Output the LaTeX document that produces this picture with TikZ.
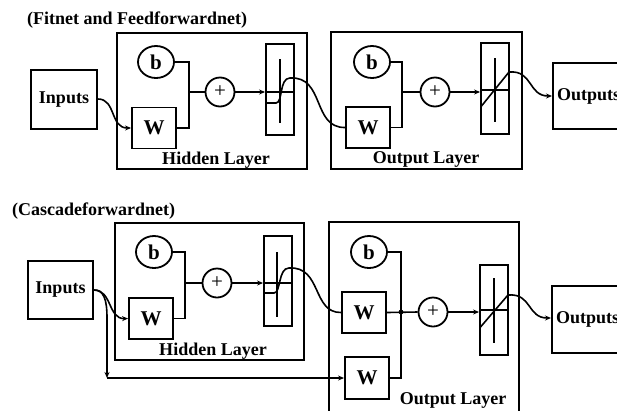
\documentclass[tikz,border=0pt]{standalone}
\usepackage{fontspec}
\setmainfont{Liberation Serif}
\usetikzlibrary{arrows.meta,shapes.geometric}
\begin{document}
\begin{tikzpicture}[x=1pt,y=-1pt,
  lbl/.style={font=\fontsize{18}{20}\selectfont\bfseries, inner sep=0pt},
  bx/.style={draw, line width=2pt, inner sep=0pt, font=\fontsize{18}{20}\selectfont\bfseries},
  wbox/.style={draw, line width=1.9pt, inner sep=0pt, minimum width=44pt, minimum height=41pt, font=\fontsize{21}{22}\selectfont\bfseries},
  bias/.style={draw, ellipse, line width=1.8pt, inner sep=0pt, minimum width=36pt, minimum height=32pt, font=\fontsize{21}{22}\selectfont\bfseries},
  sum/.style={draw, circle, line width=1.8pt, inner sep=0pt, minimum size=29pt, font=\fontsize{21}{21}\selectfont},
  tfbox/.style={draw, line width=1.9pt, inner sep=0pt, minimum width=28pt, minimum height=91pt},
  conn/.style={line width=1.6pt},
  arr/.style={line width=1.6pt, -{Stealth[length=6pt,width=5pt]}},
  inner/.style={line width=1.6pt}
]
\useasboundingbox (0,0) rectangle (617,410);
\clip (0,0) rectangle (617,410);
\fill[white] (0,0) rectangle (617,410);

% ---------------- top diagram ----------------
\node[lbl, anchor=west] (t1) at (27,20) {(Fitnet and Feedforwardnet)};
\node[bx, minimum width=190pt, minimum height=136pt] (hid1) at (212,101) {};
\node[bx, minimum width=191pt, minimum height=137pt] (out1) at (426.5,100.5) {};
\node[lbl] (hl1) at (216,160) {Hidden Layer};
\node[lbl] (ol1) at (426,159) {Output Layer};

\node[bx, minimum width=66pt, minimum height=59pt] (in1) at (64,99.5) {Inputs};
\node[bias] (b1) at (156,62) {b};
\node[wbox] (w1) at (154,128) {W};
\node[sum] (p1) at (220,92) {+};
\node[tfbox] (tf1) at (280,89.5) {};

\node[bias] (b2) at (372,62) {b};
\node[wbox] (w2) at (368,127.5) {W};
\node[sum] (p2) at (435,92) {+};
\node[tfbox] (tf2) at (495,88.5) {};
\node[bx, minimum width=80pt, minimum height=66pt, text width=72pt, align=left] (o1) at (593,96) {Outputs};

\coordinate (j1) at (189,92);
\coordinate (j2) at (402,92);

% hidden layer 1
\draw[arr] (in1.east |- 0,99) .. controls (116,99) and (110,128) .. (w1.west);
\draw[conn] (b1.east) -| (j1);
\draw[conn] (w1.east) -| (j1);
\draw[conn] (j1) -- (p1.west);
\draw[arr] (p1.east) -- (tf1.west |- p1.east);
\draw[inner] (tf1.west |- p1.east) -- (tf1.east |- p1.east);
\draw[inner] (280,59) -- (280,123);
\draw[conn] (266,103) -- (276,103) .. controls (283,103) and (279,78) .. (290,78)
   .. controls (325,76) and (312,128) .. (w2.west);

% output layer 1
\draw[conn] (b2.east) -| (j2);
\draw[conn] (w2.east) -| (j2);
\draw[conn] (j2) -- (p2.west);
\draw[arr] (p2.east) -- (tf2.west |- p2.east);
\draw[inner] (tf2.west |- 0,90) -- (tf2.east |- 0,90);
\draw[inner] (495,58) -- (495,122);
\draw[inner] (481.5,106) -- (509,72);
\draw[arr] (509,72) .. controls (533,70) and (528,96) .. (o1.west |- 0,96);

% ---------------- bottom diagram ----------------
\node[lbl, anchor=west] (t2) at (12,211) {(Cascadeforwardnet)};
\node[bx, minimum width=189pt, minimum height=137pt] (hid2) at (209.5,291.5) {};
\node[bx, minimum width=190pt, minimum height=208pt] (out2) at (424,326) {};
\node[lbl] (hl2) at (213,351) {Hidden Layer};
\node[lbl] (ol2) at (453,400) {Output Layer};

\node[bx, minimum width=65pt, minimum height=58pt] (in2) at (60.5,290) {Inputs};
\node[bias] (b3) at (154,252) {b};
\node[wbox] (w3) at (151,318.5) {W};
\node[sum] (p3) at (217,283) {+};
\node[tfbox, minimum height=90pt] (tf3) at (278,281) {};

\node[bias] (b4) at (369,252) {b};
\node[wbox] (w4) at (364,312.5) {W};
\node[wbox, minimum height=42pt] (w5) at (367,378) {W};
\node[sum] (p4) at (433,312) {+};
\node[tfbox, minimum height=90pt] (tf4) at (494,310) {};
\node[bx, minimum width=80pt, minimum height=67pt, text width=72pt, align=left] (o2) at (592,319.5) {Outputs};

\coordinate (j3) at (185,283);
\coordinate (j4) at (401,312);
\coordinate (c1) at (107,378);

% hidden layer 2
\draw[arr] (in2.east |- 0,290) .. controls (112,290) and (108,319) .. (w3.west);
\draw[arr] (in2.east |- 0,290) .. controls (104,290) and (107,300) .. (107,318) -- (c1);
\draw[arr] (c1) -- (w5.west);
\draw[conn] (b3.east) -| (j3);
\draw[conn] (w3.east) -| (j3);
\draw[conn] (j3) -- (p3.west);
\draw[arr] (p3.east) -- (tf3.west |- p3.east);
\draw[inner] (tf3.west |- p3.east) -- (tf3.east |- p3.east);
\draw[inner] (277,252) -- (277,317);
\draw[conn] (264,293) -- (274,293) .. controls (281,293) and (278,268) .. (289,268)
   .. controls (322,266) and (312,313) .. (w4.west);

% output layer 2
\draw[conn] (b4.east) -| (j4);
\draw[conn] (w5.east) -| (j4);
\draw[conn] (w4.east) -- (p4.west);
\fill (j4) circle (2.4pt);
\draw[arr] (p4.east) -- (tf4.west |- p4.east);
\draw[inner] (tf4.west |- 0,310) -- (tf4.east |- 0,310);
\draw[inner] (494,278) -- (494,343);
\draw[inner] (480.5,327) -- (508,295);
\draw[arr] (508,295) .. controls (532,293) and (527,318) .. (o2.west |- 0,318);
\end{tikzpicture}
\end{document}
